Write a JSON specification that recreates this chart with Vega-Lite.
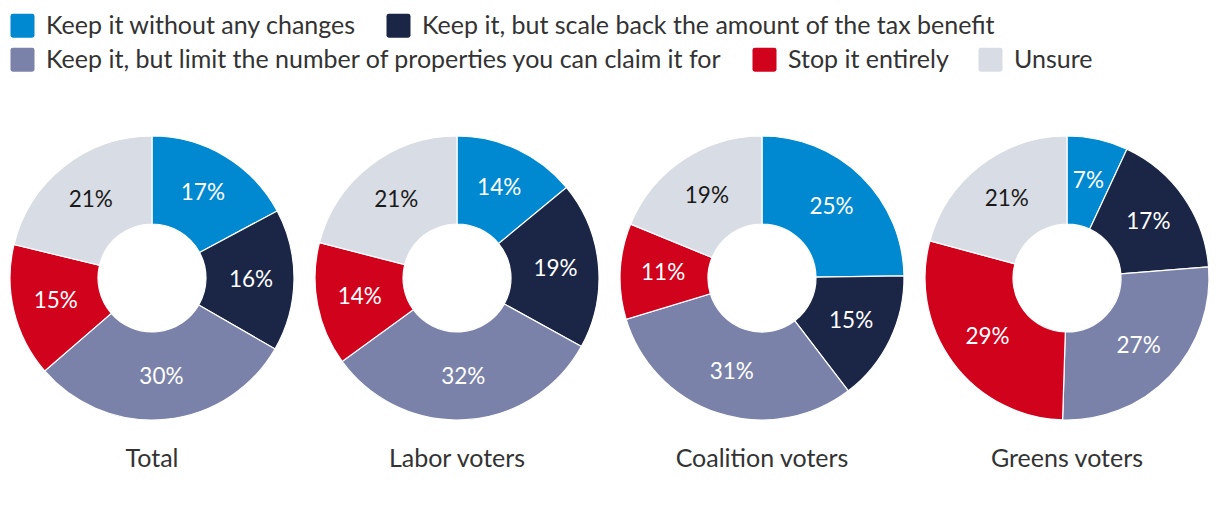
{
  "$schema": "https://vega.github.io/schema/vega-lite/v6.json",
  "padding": {"left": 7, "top": 13, "right": 5, "bottom": 5},
  "background": "white",
  "bounds": "flush",
  "data": {
    "values": [
      {"group": "Total", "response": "Keep it without any changes", "pct": 17},
      {"group": "Total", "response": "Keep it, but scale back the amount of the tax benefit", "pct": 16},
      {"group": "Total", "response": "Keep it, but limit the number of properties you can claim it for", "pct": 30},
      {"group": "Total", "response": "Stop it entirely", "pct": 15},
      {"group": "Total", "response": "Unsure", "pct": 21},
      {"group": "Labor voters", "response": "Keep it without any changes", "pct": 14},
      {"group": "Labor voters", "response": "Keep it, but scale back the amount of the tax benefit", "pct": 19},
      {"group": "Labor voters", "response": "Keep it, but limit the number of properties you can claim it for", "pct": 32},
      {"group": "Labor voters", "response": "Stop it entirely", "pct": 14},
      {"group": "Labor voters", "response": "Unsure", "pct": 21},
      {"group": "Coalition voters", "response": "Keep it without any changes", "pct": 25},
      {"group": "Coalition voters", "response": "Keep it, but scale back the amount of the tax benefit", "pct": 15},
      {"group": "Coalition voters", "response": "Keep it, but limit the number of properties you can claim it for", "pct": 31},
      {"group": "Coalition voters", "response": "Stop it entirely", "pct": 11},
      {"group": "Coalition voters", "response": "Unsure", "pct": 19},
      {"group": "Greens voters", "response": "Keep it without any changes", "pct": 7},
      {"group": "Greens voters", "response": "Keep it, but scale back the amount of the tax benefit", "pct": 17},
      {"group": "Greens voters", "response": "Keep it, but limit the number of properties you can claim it for", "pct": 27},
      {"group": "Greens voters", "response": "Stop it entirely", "pct": 29},
      {"group": "Greens voters", "response": "Unsure", "pct": 21}
    ]
  },
  "transform": [
    {"calculate": "indexof(['Keep it without any changes','Keep it, but scale back the amount of the tax benefit','Keep it, but limit the number of properties you can claim it for','Stop it entirely','Unsure'], datum.response)", "as": "k"},
    {"calculate": "datum.pct + '%'", "as": "label"}
  ],
  "facet": {
    "column": {
      "field": "group",
      "type": "nominal",
      "sort": ["Total", "Labor voters", "Coalition voters", "Greens voters"],
      "header": {
        "title": null,
        "labelOrient": "bottom",
        "labelFont": "Lato",
        "labelFontSize": 25,
        "labelColor": "#333333",
        "labelPadding": 27
      }
    }
  },
  "spacing": {"column": 21},
  "spec": {
    "width": 284,
    "height": 284,
    "layer": [
      {
        "mark": {"type": "arc", "outerRadius": 142, "innerRadius": 54, "stroke": "white", "strokeWidth": 1.2},
        "encoding": {
          "theta": {"field": "pct", "type": "quantitative", "stack": "normalize"},
          "order": {"field": "k", "type": "quantitative"},
          "fill": {
            "field": "response",
            "type": "nominal",
            "scale": {
              "domain": ["Keep it without any changes", "Keep it, but scale back the amount of the tax benefit", "Keep it, but limit the number of properties you can claim it for", "Stop it entirely", "Unsure"],
              "range": ["#0089D0", "#1B2646", "#7A82AA", "#D0021C", "#D8DCE4"]
            },
            "legend": {
              "values": ["Keep it without any changes", "Keep it, but scale back the amount of the tax benefit"]
            }
          }
        }
      },
      {
        "mark": {"type": "arc", "outerRadius": 142, "innerRadius": 54, "stroke": "white", "strokeWidth": 1.2},
        "encoding": {
          "theta": {"field": "pct", "type": "quantitative", "stack": "normalize"},
          "order": {"field": "k", "type": "quantitative"},
          "color": {
            "field": "response",
            "type": "nominal",
            "scale": {
              "domain": ["Keep it, but limit the number of properties you can claim it for", "Stop it entirely", "Unsure", "Keep it without any changes", "Keep it, but scale back the amount of the tax benefit"],
              "range": ["#7A82AA", "#D0021C", "#D8DCE4", "#0089D0", "#1B2646"]
            },
            "legend": {
              "values": ["Keep it, but limit the number of properties you can claim it for", "Stop it entirely", "Unsure"]
            }
          }
        }
      },
      {
        "mark": {"type": "text", "radius": 99, "font": "Lato", "fontSize": 22.5},
        "encoding": {
          "theta": {"field": "pct", "type": "quantitative", "stack": "normalize"},
          "order": {"field": "k", "type": "quantitative"},
          "detail": {"field": "response", "type": "nominal"},
          "text": {"field": "label", "type": "nominal"},
          "color": {"condition": {"test": "datum.response === 'Unsure'", "value": "#1a1a1a"}, "value": "white"}
        }
      }
    ]
  },
  "config": {
    "view": {"stroke": null},
    "legend": {
      "orient": "top",
      "direction": "horizontal",
      "title": null,
      "labelFont": "Lato",
      "labelFontSize": 25,
      "labelColor": "#333333",
      "labelLimit": 800,
      "labelOffset": 11,
      "symbolType": "M-0.8,-1H0.8Q1,-1 1,-0.8V0.8Q1,1 0.8,1H-0.8Q-1,1 -1,0.8V-0.8Q-1,-1 -0.8,-1Z",
      "symbolSize": 576,
      "symbolStrokeWidth": 0,
      "symbolOpacity": 1,
      "columnPadding": 29,
      "offset": 60,
      "layout": {"top": {"anchor": "start", "direction": "vertical", "margin": 8}}
    }
  }
}
